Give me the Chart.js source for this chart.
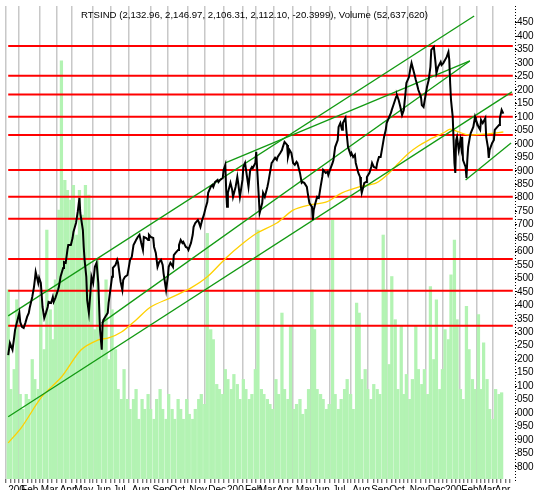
<!DOCTYPE html>
<html><head><meta charset="utf-8">
<script src="https://cdn.jsdelivr.net/npm/chart.js@4"></script>
<style>html,body{margin:0;padding:0;background:#fff;overflow:hidden}#wrap{position:relative;width:535px;height:490px}</style>
</head><body><div id="wrap"><canvas id="c"></canvas></div>
<script>
const titleText = "RTSIND (2,132.96, 2,146.97, 2,106.31, 2,112.10, -20.3999), Volume (52,637,620)";

// month labels and the trading-day index where each month begins
const monthLabels = ["200","Feb","Mar","Apr","May","Jun","Jul","Aug","Sep","Oct","Nov","Dec",
                     "200","Feb","Mar","Apr","May","Jun","Jul","Aug","Sep","Oct","Nov","Dec",
                     "200","Feb","Mar","Apr"];
const monthStartDays = [0,15,38,60,77,101,122,144,168,188,211,233,
                        255,276,292,313,335,356,378,401,423,444,468,489,
                        509,528,548,567];
const lastDay = 588;

// right-axis price ticks
const priceTicks = [2450,2400,2350,2300,2250,2200,2150,2100,2050,2000,1950,1900,1850,1800,1750,1700,
                    1650,1600,1550,1500,1450,1400,1350,1300,1250,1200,1150,1100,1050,1000,950,900,850,800];

// RTSIND close, [trading day, price]
const closeSeries = [[0,1215],[2,1260],[5,1235],[7,1283],[8,1309],[10,1335],[13,1372],[14,1338],[16,1320],[18,1316],[20,1335],[22,1357],[24,1372],[25,1390],[28,1431],[30,1468],[31,1494],[32,1524],[35,1483],[36,1502],[38,1483],[40,1394],[42,1353],[44,1372],[46,1394],[47,1413],[50,1409],[52,1431],[53,1413],[55,1428],[58,1457],[59,1468],[61,1506],[64,1539],[65,1561],[67,1558],[69,1606],[70,1624],[73,1624],[75,1650],[76,1673],[79,1706],[81,1747],[82,1773],[83,1799],[84,1743],[87,1680],[88,1617],[89,1569],[91,1506],[92,1420],[94,1372],[96,1457],[97,1506],[99,1483],[101,1543],[103,1558],[105,1483],[106,1394],[107,1309],[109,1235],[110,1335],[111,1346],[113,1357],[116,1372],[117,1409],[119,1457],[121,1506],[122,1539],[125,1550],[127,1569],[128,1558],[131,1487],[133,1457],[134,1494],[136,1506],[139,1513],[140,1532],[142,1569],[144,1580],[146,1624],[148,1636],[149,1643],[151,1654],[153,1662],[155,1632],[157,1606],[158,1654],[161,1650],[163,1643],[164,1662],[166,1654],[169,1650],[170,1617],[172,1595],[174,1543],[176,1561],[178,1569],[180,1550],[181,1520],[184,1457],[186,1506],[187,1543],[189,1558],[192,1543],[193,1587],[195,1595],[198,1606],[199,1624],[201,1643],[203,1632],[204,1636],[207,1617],[209,1613],[210,1606],[213,1632],[215,1662],[216,1691],[218,1706],[221,1717],[222,1710],[224,1691],[226,1717],[228,1736],[230,1762],[232,1784],[233,1818],[236,1840],[238,1847],[239,1840],[241,1858],[244,1866],[245,1858],[247,1866],[250,1873],[251,1903],[253,1922],[254,1829],[255,1766],[256,1818],[259,1855],[261,1829],[262,1803],[265,1840],[267,1877],[268,1855],[270,1803],[273,1866],[274,1914],[276,1929],[278,1884],[280,1840],[282,1903],[284,1914],[285,1910],[288,1929],[289,1970],[290,1914],[292,1803],[293,1743],[296,1780],[297,1818],[299,1803],[302,1840],[303,1855],[305,1892],[307,1929],[308,1933],[311,1948],[313,1940],[314,1951],[317,1966],[319,1977],[320,1988],[322,2007],[325,1996],[326,1951],[328,1977],[330,1966],[332,1929],[334,1922],[336,1933],[337,1929],[340,1892],[342,1855],[343,1858],[345,1855],[348,1840],[349,1818],[351,1780],[354,1766],[355,1717],[356,1754],[358,1780],[360,1803],[362,1799],[364,1840],[366,1877],[367,1903],[370,1892],[372,1896],[373,1884],[375,1903],[378,1929],[379,1940],[381,1988],[384,2014],[385,2063],[387,2077],[389,2052],[390,2077],[393,2096],[394,2052],[396,1988],[399,1959],[400,1966],[402,1951],[404,1959],[405,1929],[408,1892],[410,1877],[411,1840],[412,1818],[415,1855],[417,1858],[418,1877],[421,1892],[423,1914],[424,1929],[426,1914],[429,1910],[430,1929],[432,1951],[434,1951],[436,1988],[438,2026],[440,2052],[441,2077],[444,2100],[446,2115],[447,2126],[449,2145],[452,2174],[453,2181],[455,2163],[457,2137],[459,2107],[461,2126],[463,2189],[464,2226],[467,2248],[469,2286],[470,2300],[473,2263],[475,2237],[476,2226],[478,2200],[481,2174],[482,2144],[484,2137],[486,2174],[488,2211],[490,2237],[492,2286],[493,2349],[496,2360],[498,2300],[499,2263],[501,2286],[504,2304],[505,2293],[507,2300],[509,2311],[511,2323],[513,2341],[514,2311],[515,2226],[516,2163],[518,2100],[519,2014],[520,1929],[521,1892],[522,2014],[523,2026],[525,1977],[527,2014],[528,1988],[529,2026],[530,1940],[533,1914],[534,1873],[535,1940],[536,1988],[538,2026],[539,2040],[542,2063],[544,2100],[545,2089],[548,2063],[550,2052],[551,2089],[553,2077],[556,2096],[557,2026],[559,1988],[560,1948],[561,1977],[564,2003],[566,2014],[567,2052],[570,2063],[572,2070],[573,2096],[575,2126],[577,2112]];

// moving average, [trading day, price]
const movingAverage = [[0,889],[16,949],[39,1060],[62,1134],[85,1235],[105,1272],[117,1279],[132,1301],[149,1346],[166,1394],[189,1428],[213,1465],[232,1506],[255,1580],[274,1632],[290,1669],[313,1706],[332,1754],[351,1773],[371,1784],[389,1818],[409,1840],[429,1855],[444,1892],[455,1929],[467,1966],[478,1992],[490,2014],[509,2044],[515,2055],[525,2044],[536,2033],[559,2037],[577,2044]];

// volume in millions, [trading day, volume]
const volumeSeries = [[0,114],[3,54],[7,66],[10,108],[14,51],[17,42],[21,51],[24,48],[28,72],[31,60],[35,54],[38,108],[42,78],[45,150],[49,102],[52,84],[55,120],[59,162],[62,252],[66,180],[69,174],[73,168],[76,177],[80,147],[83,174],[87,159],[90,177],[94,171],[97,114],[101,90],[104,132],[107,84],[111,96],[114,120],[118,72],[121,102],[125,78],[128,54],[132,48],[135,66],[139,48],[142,42],[146,48],[149,54],[152,36],[156,48],[159,42],[163,51],[166,42],[170,36],[173,48],[177,54],[180,42],[184,36],[187,51],[191,42],[194,36],[198,48],[201,42],[204,36],[208,48],[211,39],[215,36],[218,42],[222,48],[225,51],[229,45],[232,148],[236,90],[239,84],[243,57],[246,54],[250,51],[253,66],[256,60],[260,54],[263,63],[267,57],[270,48],[274,60],[277,54],[281,48],[284,51],[288,66],[291,150],[295,54],[298,51],[302,48],[305,45],[308,42],[312,60],[315,51],[319,100],[322,54],[326,48],[329,92],[333,42],[336,45],[340,48],[343,39],[347,42],[350,54],[354,114],[357,90],[360,54],[364,51],[367,48],[371,42],[374,45],[378,156],[381,51],[385,42],[388,48],[392,54],[395,60],[399,51],[402,42],[406,106],[409,100],[412,60],[416,66],[419,54],[423,48],[426,57],[430,54],[433,51],[437,147],[440,114],[444,69],[447,122],[451,96],[454,54],[458,92],[461,51],[464,63],[468,48],[471,60],[475,92],[478,66],[482,57],[485,66],[489,51],[492,116],[496,72],[499,108],[503,54],[506,66],[509,90],[513,84],[516,123],[520,144],[523,96],[527,54],[530,48],[534,104],[537,78],[541,60],[544,54],[548,99],[551,54],[554,82],[558,60],[561,42],[565,36],[568,54],[572,51],[575,52]];

// horizontal support / resistance levels
const levels = [2363,2253,2183,2101,2033,1903,1803,1722,1572,1454,1324];

// trend channel lines: [[day, price], [day, price]]
const trendLines = [
  [[0,1361],[543,2475]],
  [[0,986],[587,2193]],
  [[109,1335],[538,2308]],
  [[253,1929],[538,2308]],
  [[533,1866],[586,2003]]
];

const toXY = arr => arr.map(([x, y]) => ({x, y}));

// x ticks: month starts (major) plus weekly minor marks
const labelByDay = new Map();
monthStartDays.forEach((d, i) => labelByDay.set(d, monthLabels[i]));
const xTicks = [];
monthStartDays.forEach((d, i) => {
  xTicks.push({value: d, major: true});
  const next = i + 1 < monthStartDays.length ? monthStartDays[i + 1] : lastDay;
  for (let w = d + 5; w < next - 2; w += 5) xTicks.push({value: w, major: false});
});

const datasets = [];
datasets.push({
  type: 'bar', data: toXY(volumeSeries), yAxisID: 'yv',
  backgroundColor: '#b3f3b3', borderWidth: 0,
  barThickness: 2.6, order: 10
});
levels.forEach(v => datasets.push({
  type: 'line', data: [{x: 0, y: v}, {x: lastDay, y: v}], yAxisID: 'y',
  borderColor: '#ff0000', borderWidth: 2, pointRadius: 0, order: 8
}));
datasets.push({
  type: 'line', data: toXY(movingAverage), yAxisID: 'y',
  borderColor: '#ffd000', borderWidth: 1.3, pointRadius: 0, tension: 0.3, order: 6
});
trendLines.forEach(seg => datasets.push({
  type: 'line', data: toXY(seg), yAxisID: 'y',
  borderColor: '#129a12', borderWidth: 1.3, pointRadius: 0, order: 4
}));
datasets.push({
  type: 'line', data: toXY(closeSeries), yAxisID: 'y',
  borderColor: '#000000', borderWidth: 2, pointRadius: 0, tension: 0, order: 1
});

const overlay = {
  id: 'overlay',
  afterDraw(chart) {
    const {ctx, chartArea: a} = chart;
    ctx.save();
    ctx.strokeStyle = '#000';
    ctx.lineWidth = 1;
    ctx.setLineDash([1, 2]);
    ctx.beginPath();
    ctx.moveTo(a.right + 0.5, a.top);
    ctx.lineTo(a.right + 0.5, a.bottom + 4);
    ctx.stroke();
    ctx.setLineDash([]);
    ctx.fillStyle = '#000';
    ctx.font = '9.6px "Liberation Sans", Arial, sans-serif';
    ctx.textBaseline = 'middle';
    ctx.textAlign = 'left';
    ctx.fillText(titleText, 81, 15.5);
    ctx.restore();
  }
};

new Chart(document.getElementById('c'), {
  type: 'line',
  data: {datasets},
  plugins: [overlay],
  options: {
    responsive: true, maintainAspectRatio: false, animation: false, devicePixelRatio: 1,
    layout: {padding: {left: 6, top: 6, right: 0, bottom: 0}},
    plugins: {legend: {display: false}, tooltip: {enabled: false}, title: {display: false}},
    scales: {
      x: {
        type: 'linear', min: 0, max: lastDay,
        afterBuildTicks: s => { s.ticks = xTicks.map(t => ({...t})); },
        afterFit: s => { s.height = 11; },
        border: {display: false},
        grid: {
          color: c => (c.tick && c.tick.major) ? '#c8c8c8' : 'rgba(0,0,0,0)',
          lineWidth: 1.5, drawTicks: true, tickLength: 4, tickWidth: 1, tickColor: '#444'
        },
        ticks: {
          autoSkip: false, maxRotation: 0, minRotation: 0, align: 'start', padding: 1,
          color: '#000', font: {size: 10, family: '"Liberation Sans", Arial, sans-serif'},
          callback: v => labelByDay.has(v) ? labelByDay.get(v) : ''
        }
      },
      y: {
        type: 'linear', position: 'right', min: 755, max: 2512,
        afterBuildTicks: s => { s.ticks = priceTicks.map(v => ({value: v})); },
        afterFit: s => { s.width = 20; },
        border: {display: false},
        grid: {drawOnChartArea: false, drawTicks: true, tickLength: 2, tickColor: '#000'},
        ticks: {
          autoSkip: false, padding: 0, color: '#000',
          font: {size: 10, family: '"Liberation Sans", Arial, sans-serif'},
          callback: v => String(v % 1000).padStart(3, '0')
        }
      },
      yv: {type: 'linear', display: false, min: 0, max: 285}
    }
  }
});
</script>
</body></html>
